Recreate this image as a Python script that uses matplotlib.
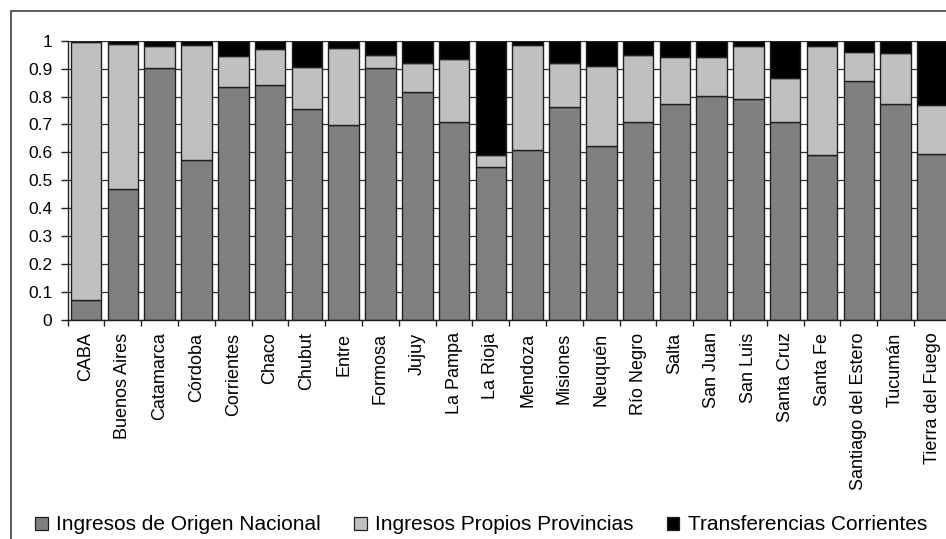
import numpy as np
import matplotlib
matplotlib.use('Agg')
import matplotlib.pyplot as plt
from matplotlib.patches import Patch, Rectangle

plt.rcParams['font.family'] = ['Liberation Sans', 'DejaVu Sans']

provincias = ['CABA', 'Buenos Aires', 'Catamarca', 'Córdoba', 'Corrientes', 'Chaco',
              'Chubut', 'Entre', 'Formosa', 'Jujuy', 'La Pampa', 'La Rioja', 'Mendoza',
              'Misiones', 'Neuquén', 'Río Negro', 'Salta', 'San Juan', 'San Luis',
              'Santa Cruz', 'Santa Fe', 'Santiago del Estero', 'Tucumán', 'Tierra del Fuego']

# share of each source (stacked to 1)
nacional = [0.072, 0.469, 0.903, 0.574, 0.835, 0.840, 0.754, 0.698, 0.903, 0.816,
            0.710, 0.549, 0.609, 0.763, 0.624, 0.709, 0.772, 0.802, 0.792, 0.710,
            0.589, 0.856, 0.773, 0.595]
propios = [0.923, 0.519, 0.077, 0.410, 0.110, 0.129, 0.152, 0.275, 0.047, 0.105,
           0.224, 0.042, 0.375, 0.158, 0.287, 0.241, 0.168, 0.138, 0.188, 0.156,
           0.391, 0.103, 0.182, 0.175]
transferencias = [0.005, 0.012, 0.020, 0.016, 0.055, 0.031, 0.094, 0.027, 0.050, 0.079,
                  0.066, 0.409, 0.016, 0.079, 0.089, 0.050, 0.060, 0.060, 0.020, 0.134,
                  0.020, 0.041, 0.045, 0.230]

series = ['Ingresos de Origen Nacional', 'Ingresos Propios Provincias', 'Transferencias Corrientes']
colores = ['#808080', '#c0c0c0', '#000000']

W, H = 946, 539
fig = plt.figure(figsize=(W / 100, H / 100), dpi=100)
ax = fig.add_axes([67.7 / W, 1 - 320 / H, (950.8 - 67.7) / W, (320 - 40.7) / H])

x = np.arange(len(provincias))
nac = np.array(nacional)
pro = np.array(propios)
tra = np.array(transferencias)
ax.bar(x, nac, width=0.83, color=colores[0], edgecolor='#202020', linewidth=1.0, zorder=2)
ax.bar(x, pro, width=0.83, bottom=nac, color=colores[1], edgecolor='#202020', linewidth=1.0, zorder=2)
ax.bar(x, tra, width=0.83, bottom=nac + pro, color=colores[2], edgecolor='#202020', linewidth=1.0, zorder=2)

ax.set_xlim(-0.5, len(provincias) - 0.5)
ax.set_ylim(0, 1)
ax.set_yticks(np.arange(0, 1.01, 0.1))
ax.set_yticklabels(['0', '0.1', '0.2', '0.3', '0.4', '0.5', '0.6', '0.7', '0.8', '0.9', '1'])
ax.yaxis.grid(True, color='#303030', linewidth=0.9, zorder=0)
ax.set_axisbelow(True)

ax.set_xticks(x)
ax.set_xticklabels(provincias, rotation=90, va='top', ha='center', fontsize=13)
ax.set_xticks(np.arange(-0.5, len(provincias), 1), minor=True)
ax.tick_params(axis='x', which='major', length=0, pad=9)
ax.tick_params(axis='x', which='minor', length=4, direction='out', width=1, color='#202020')
ax.tick_params(axis='y', length=5, width=1, pad=6, labelsize=12.5, color='#202020')

for s in ['top', 'right']:
    ax.spines[s].set_visible(False)
for s in ['left', 'bottom']:
    ax.spines[s].set_color('#202020')
    ax.spines[s].set_linewidth(1)

# outer frame of the chart
fig.patches.append(Rectangle((10.5 / W, -0.1), 1.2, 1 - 11 / H + 0.1, transform=fig.transFigure,
                             fill=False, edgecolor='#404040', linewidth=1.2))

handles = [Patch(facecolor=c, edgecolor='#202020', linewidth=0.9) for c in colores]
fig.legend(handles, series, loc='center', bbox_to_anchor=(481 / W, 1 - 525 / H), ncol=3,
           frameon=False, fontsize=15, handlelength=0.6, handleheight=0.6,
           handletextpad=0.4, columnspacing=1.6, borderpad=0)

fig.savefig('out.png', dpi=100)
